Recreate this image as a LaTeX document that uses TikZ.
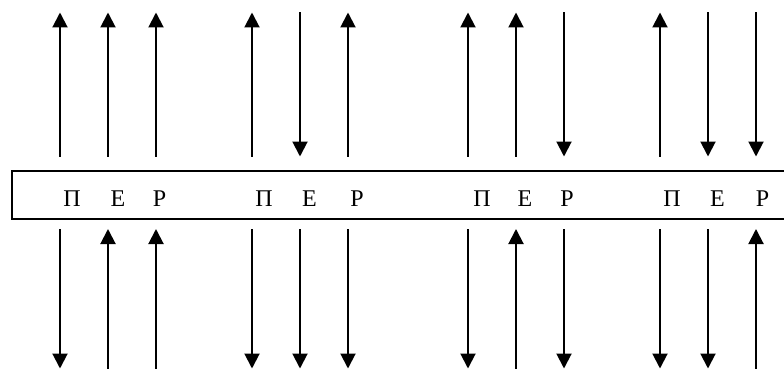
\documentclass[tikz,border=0pt]{standalone}
\usepackage{fontspec}
\setmainfont{Liberation Serif}
\usetikzlibrary{arrows.meta}

\tikzset{
  wire/.style={line width=2pt, -{Triangle[width=15pt,length=15pt]}},
  frame/.style={line width=2pt},
  letter/.style={anchor=base, inner sep=0pt, font=\fontsize{24}{29}\selectfont}
}

\begin{document}
\begin{tikzpicture}[x=1pt, y=-1pt]
  \useasboundingbox (0,0) rectangle (784,369);
  \clip (0,0) rectangle (784,369);

  % the long strip holding the letters
  \draw[frame] (800,171) -- (12,171) -- (12,219) -- (800,219);

  % letters: x position, label
  \foreach \x/\t/\n in {72/П/p1,118/Е/e1,159.5/Р/r1,
                        264/П/p2,309.5/Е/e2,357/Р/r2,
                        482/П/p3,525/Е/e3,567/Р/r3,
                        672/П/p4,717.5/Е/e4,762.5/Р/r4}
    \node[letter] (\n) at (\x,206.7) {\t};

  % arrow end points: top end, upper inner end, lower inner end, bottom end
  \foreach \x [count=\i] in {60,108,156,252,300,348,468,516,564,660,708,756} {
    \coordinate (t\i) at (\x,12.5);
    \coordinate (u\i) at (\x,156.5);
    \coordinate (l\i) at (\x,229);
    \coordinate (b\i) at (\x,368.5);
  }

  % upper row: outward (up) or inward (down)
  \foreach \i in {1,2,3,4,6,7,8,10}
    \draw[wire] (u\i) -- (t\i);
  \foreach \i in {5,9,11,12}
    \draw[wire] (t\i) -- (u\i);

  % lower row: outward (down) or inward (up)
  \foreach \i in {1,4,5,6,7,9,10,11}
    \draw[wire] (l\i) -- (b\i);
  \foreach \i in {2,3,8,12}
    \draw[wire] (b\i) -- (l\i);
\end{tikzpicture}
\end{document}
